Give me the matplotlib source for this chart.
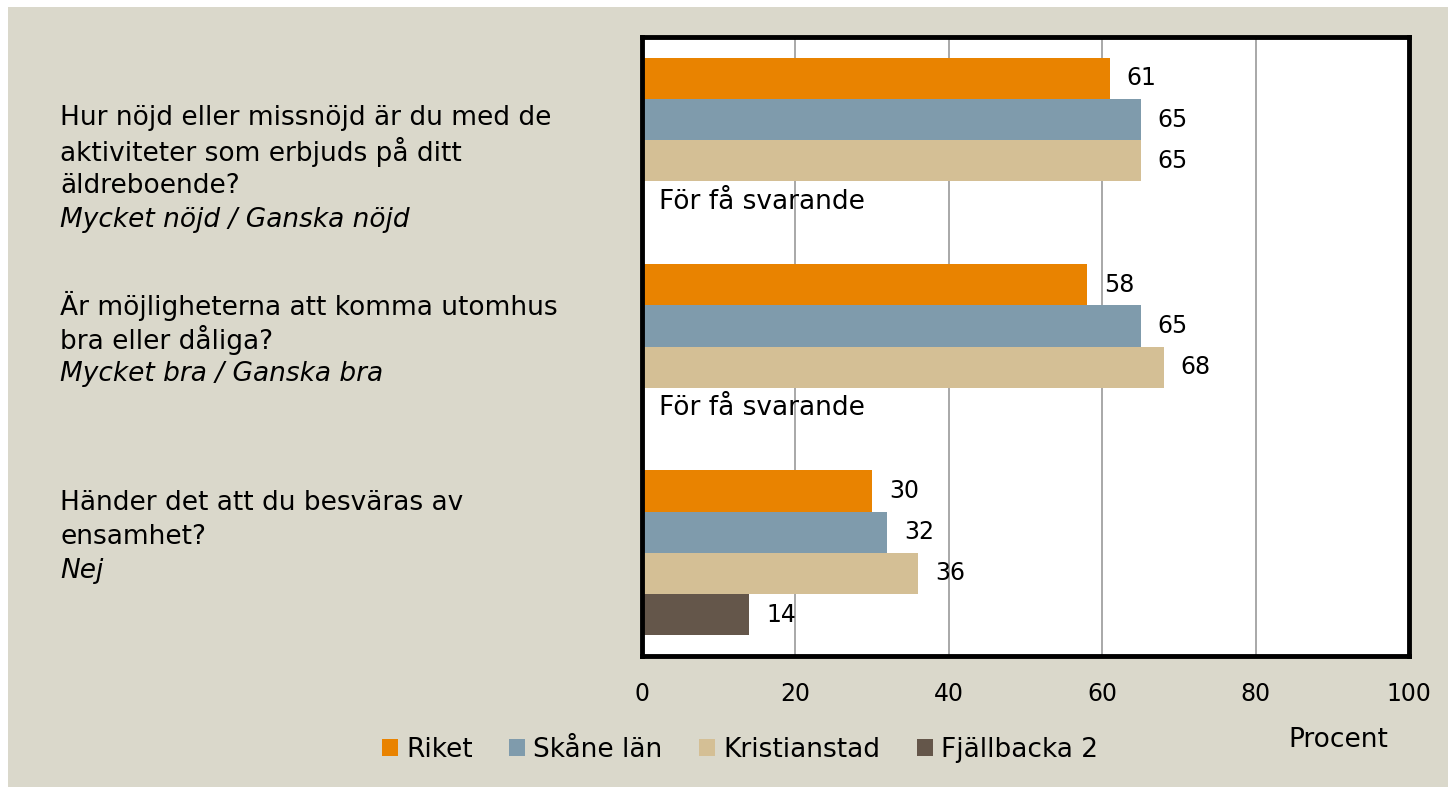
import numpy as np
import matplotlib.pyplot as plt
from matplotlib.patches import Rectangle
from matplotlib.transforms import blended_transform_factory

# Frågor (vanlig text) och svarsalternativ (kursiv)
questions = [
    ["Hur nöjd eller missnöjd är du med de", "aktiviteter som erbjuds på ditt", "äldreboende?"],
    ["Är möjligheterna att komma utomhus", "bra eller dåliga?"],
    ["Händer det att du besväras av", "ensamhet?"],
]
answers = ["Mycket nöjd / Ganska nöjd", "Mycket bra / Ganska bra", "Nej"]

series = ["Riket", "Skåne län", "Kristianstad", "Fjällbacka 2"]
riket = [61, 58, 30]
skane = [65, 65, 32]
kristianstad = [65, 68, 36]
fjallbacka = [None, None, 14]
values = [riket, skane, kristianstad, fjallbacka]

colors = ["#E98300", "#7F9BAC", "#D4BF95", "#64564A"]
bg = "#DAD8CB"
missing_text = "För få svarande"

plt.rcParams['font.family'] = ['DejaVu Sans']
fs = 19      # text
fs_num = 17  # siffror

fig = plt.figure(figsize=(14.48, 7.87), dpi=100, facecolor="white")
fig.patches.append(Rectangle((8 / 1448, 0.0), 1.0, 1 - 7 / 787, transform=fig.transFigure,
                             facecolor=bg, edgecolor="none", zorder=-10))

ax = fig.add_axes([642 / 1448, 1 - 656 / 787, (1409 - 642) / 1448, (656 - 37) / 787])
ax.set_facecolor("white")

n_cat = len(questions)
y = np.arange(n_cat)
h = 0.2
offsets = [-0.3, -0.1, 0.1, 0.3]

for s, (vals, col) in enumerate(zip(values, colors)):
    for i, v in enumerate(vals):
        ypos = y[i] + offsets[s]
        if v is None:
            ax.text(2.2, ypos, missing_text, va="center", ha="left", fontsize=fs, color="black")
            continue
        ax.barh(ypos, v, height=h, color=col, edgecolor="none", zorder=2)
        ax.text(v + 2.2, ypos, str(v), va="center", ha="left", fontsize=fs_num, color="black", zorder=3)

ax.set_xlim(0, 100)
ax.set_ylim(n_cat - 0.5, -0.5)
ax.set_xticks([0, 20, 40, 60, 80, 100])
ax.set_yticks([])
ax.tick_params(axis="x", length=0, pad=19, labelsize=fs_num)
ax.grid(axis="x", color="#9A9A9A", linewidth=1.2)
ax.set_axisbelow(True)
for sp in ax.spines.values():
    sp.set_linewidth(3.5)
    sp.set_color("black")

# Frågetexter till vänster
trans = blended_transform_factory(fig.transFigure, ax.transData)
first_line = [-0.107, -0.196, -0.241]
line_step = 0.165
for i in range(n_cat):
    yy = y[i] + first_line[i]
    for line in questions[i]:
        ax.text(60 / 1448, yy, line, transform=trans, ha="left", va="center",
                fontsize=fs, clip_on=False)
        yy += line_step
    ax.text(60 / 1448, yy, answers[i], transform=trans, ha="left", va="center",
            fontsize=fs, style="italic", clip_on=False)

fig.text(1338 / 1448, 1 - 740 / 787, "Procent", ha="center", va="center", fontsize=fs)

handles = [Rectangle((0, 0), 1, 1, facecolor=c, edgecolor="none") for c in colors]
fig.legend(handles, series, loc="center", bbox_to_anchor=(740 / 1448, 1 - 750 / 787),
           ncol=4, frameon=False, fontsize=fs, handlelength=0.6, handleheight=0.6,
           handletextpad=0.3, columnspacing=1.4)

fig.savefig("out.png", dpi=100, facecolor=fig.get_facecolor())
